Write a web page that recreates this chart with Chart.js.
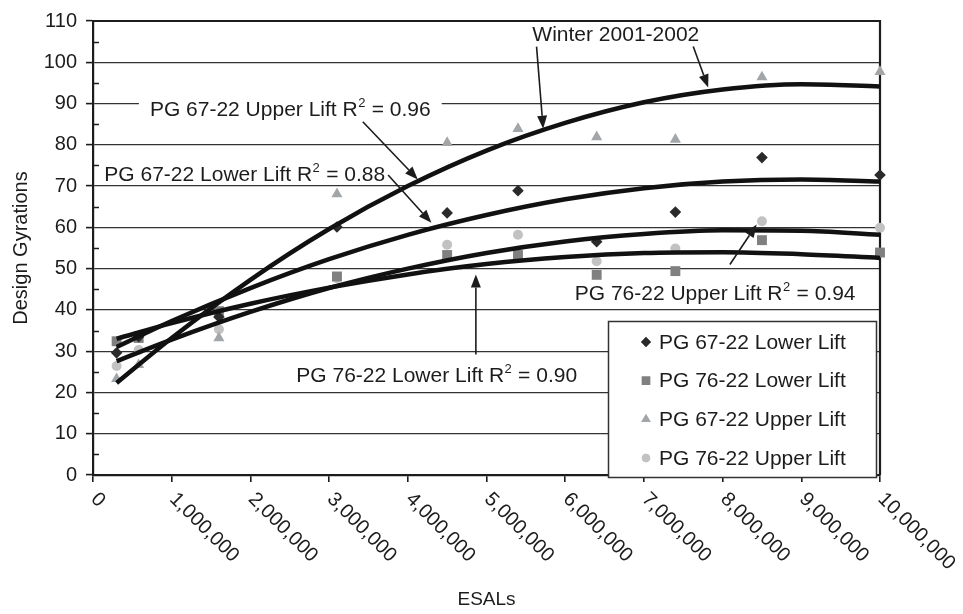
<!DOCTYPE html>
<html>
<head>
<meta charset="utf-8">
<script src="https://cdn.jsdelivr.net/npm/chart.js@4.4.1/dist/chart.umd.min.js"></script>
<style>
  html, body { margin: 0; padding: 0; background: #fff; }
  #wrap { width: 963px; height: 614px; }
</style>
</head>
<body>
<div id="wrap"><canvas id="c" width="963" height="614"></canvas></div>
<script>
// Design gyrations measured at each traffic level (ESALs)
const esals = [300000, 580000, 1600000, 3100000, 4500000, 5400000, 6400000, 7400000, 8500000, 10000000];
const pg6722Lower = [29.6, 33.5, 38.3, 60.1, 63.5, 68.9, 56.5, 63.7, 76.9, 72.7];
const pg7622Lower = [32.4, 33.2, 39.7, 48.1, 53.3, 53.3, 48.5, 49.4, 56.9, 53.9];
const pg6722Upper = [23.3, 26.7, 33.2, 68.1, 80.5, 83.9, 81.9, 81.3, 96.4, 97.7];
const pg7622Upper = [26.4, 30.3, 35.3, 47.7, 55.8, 58.2, 51.8, 54.9, 61.5, 59.9];

// Trend curves (second-order fits) sampled along the ESAL range
const trendEsals = [300000, 1000000, 2000000, 3000000, 4000000, 5000000, 6000000, 7000000, 8000000, 9000000, 10000000];
const trend6722Upper = [22.3, 33.2, 47.3, 59.6, 70.0, 78.6, 85.3, 90.3, 93.4, 94.7, 94.1];
const trend6722Lower = [31.0, 37.3, 45.3, 52.3, 58.2, 63.0, 66.8, 69.5, 71.1, 71.6, 71.1];
const trend7622Upper = [27.6, 32.8, 39.5, 45.3, 50.0, 53.8, 56.6, 58.4, 59.3, 59.2, 58.2];
const trend7622Lower = [33.0, 36.8, 41.5, 45.4, 48.6, 51.1, 52.8, 53.8, 54.0, 53.5, 52.6];

const xTickLabels = ['0', '1,000,000', '2,000,000', '3,000,000', '4,000,000', '5,000,000',
                     '6,000,000', '7,000,000', '8,000,000', '9,000,000', '10,000,000'];
const yTickLabels = ['0', '10', '20', '30', '40', '50', '60', '70', '80', '90', '100', '110'];

const FONT = '"Liberation Sans", Arial, Helvetica, sans-serif';
const INK = '#1c1c1c';

const toPts = (xs, ys) => xs.map((x, i) => ({ x, y: ys[i] }));

const markerSeries = [
  { label: 'PG 67-22 Lower Lift', values: pg6722Lower, style: 'rectRot',  color: '#2a2a2a', r: 5.8 },
  { label: 'PG 76-22 Lower Lift', values: pg7622Lower, style: 'rect',     color: '#808080', r: 7.0 },
  { label: 'PG 67-22 Upper Lift', values: pg6722Upper, style: 'triangle', color: '#a3a6a9', r: 6.4 },
  { label: 'PG 76-22 Upper Lift', values: pg7622Upper, style: 'circle',   color: '#c2c2c2', r: 5.0 }
];
const trendSeries = [trend6722Upper, trend6722Lower, trend7622Upper, trend7622Lower];

// Callout labels with leader arrows, placed in data units
const callouts = [
  { main: 'Winter 2001-2002', sup: '', tail: '', at: [6643000, 107.0], box: false,
    arrows: [[[5636000, 103.8], [5720000, 83.9]], [[7627000, 103.8], [7817000, 93.9]]] },
  { main: 'PG 67-22 Upper Lift R', sup: '2', tail: ' = 0.96', at: [2507000, 88.9], box: true,
    arrows: [[[3428000, 85.6], [4127000, 71.6]]] },
  { main: 'PG 67-22 Lower Lift R', sup: '2', tail: ' = 0.88', at: [1928000, 73.1], box: false,
    arrows: [[[3750000, 72.7], [4300000, 61.1]]] },
  { main: 'PG 76-22 Upper Lift R', sup: '2', tail: ' = 0.94', at: [7905000, 44.3], box: false,
    arrows: [[[8093000, 51.0], [8433000, 60.7]]] },
  { main: 'PG 76-22 Lower Lift R', sup: '2', tail: ' = 0.90', at: [4367000, 24.4], box: false,
    arrows: [[[4865000, 29.2], [4865000, 48.6]]] }
];

const datasets = [];
trendSeries.forEach((vals, i) => {
  datasets.push({
    label: 'trend' + i,
    data: toPts(trendEsals, vals),
    showLine: true,
    borderColor: '#111',
    borderWidth: 4.5,
    pointRadius: 0,
    cubicInterpolationMode: 'monotone',
    order: 1
  });
});
markerSeries.forEach(s => {
  datasets.push({
    label: s.label,
    data: toPts(esals, s.values),
    showLine: false,
    pointStyle: s.style,
    pointRadius: s.r,
    backgroundColor: s.color,
    borderColor: s.color,
    borderWidth: 0,
    clip: false,
    order: 2
  });
});

function drawArrow(ctx, x0, y0, x1, y1) {
  const ang = Math.atan2(y1 - y0, x1 - x0);
  const len = 13, half = 5;
  const bx = x1 - Math.cos(ang) * len, by = y1 - Math.sin(ang) * len;
  ctx.beginPath();
  ctx.moveTo(x0, y0);
  ctx.lineTo(bx, by);
  ctx.stroke();
  ctx.beginPath();
  ctx.moveTo(x1, y1);
  ctx.lineTo(bx + Math.sin(ang) * half, by - Math.cos(ang) * half);
  ctx.lineTo(bx - Math.sin(ang) * half, by + Math.cos(ang) * half);
  ctx.closePath();
  ctx.fill();
}

const decor = {
  id: 'decor',
  beforeDatasetsDraw(chart) {
    const { ctx, chartArea: a, scales: { y } } = chart;
    ctx.save();
    ctx.strokeStyle = INK;
    // minor ticks pointing into the plot
    ctx.lineWidth = 1.5;
    for (let v = 5; v < 110; v += 10) {
      const py = Math.round(y.getPixelForValue(v)) + 0.5;
      ctx.beginPath();
      ctx.moveTo(a.left, py);
      ctx.lineTo(a.left + 6, py);
      ctx.stroke();
    }
    // top and right frame
    ctx.lineWidth = 2.2;
    ctx.beginPath();
    ctx.moveTo(a.left, a.top);
    ctx.lineTo(a.right, a.top);
    ctx.lineTo(a.right, a.bottom);
    ctx.stroke();
    ctx.restore();
  },
  afterDatasetsDraw(chart) {
    const { ctx, chartArea: a, scales: { x, y } } = chart;
    ctx.save();

    // callouts
    const mainFont = '21px ' + FONT, supFont = '13px ' + FONT;
    callouts.forEach(c => {
      ctx.font = mainFont;
      const w1 = ctx.measureText(c.main).width;
      const w3 = ctx.measureText(c.tail).width;
      ctx.font = supFont;
      const w2 = c.sup ? ctx.measureText(c.sup).width + 1 : 0;
      const total = w1 + w2 + w3;
      const cx = x.getPixelForValue(c.at[0]);
      const cy = y.getPixelForValue(c.at[1]);
      const sx = cx - total / 2;
      if (c.box) {
        ctx.fillStyle = '#fff';
        ctx.fillRect(sx - 11, cy - 12, total + 22, 24);
      }
      const base = cy + 7.5;
      ctx.fillStyle = INK;
      ctx.textAlign = 'left';
      ctx.textBaseline = 'alphabetic';
      ctx.font = mainFont;
      ctx.fillText(c.main, sx, base);
      if (c.sup) {
        ctx.font = supFont;
        ctx.fillText(c.sup, sx + w1 + 0.5, base - 9);
      }
      ctx.font = mainFont;
      ctx.fillText(c.tail, sx + w1 + w2, base);

      ctx.strokeStyle = INK;
      ctx.fillStyle = INK;
      ctx.lineWidth = 1.6;
      c.arrows.forEach(([p0, p1]) => {
        drawArrow(ctx, x.getPixelForValue(p0[0]), y.getPixelForValue(p0[1]),
                       x.getPixelForValue(p1[0]), y.getPixelForValue(p1[1]));
      });
    });

    // legend box in the lower-right of the plot
    const lw = 268, lh = 156;
    const lx = a.right - 272, ly = a.top + 300;
    ctx.fillStyle = '#fff';
    ctx.fillRect(lx, ly, lw, lh);
    ctx.strokeStyle = '#333';
    ctx.lineWidth = 1.5;
    ctx.strokeRect(lx + 0.5, ly + 0.5, lw, lh);
    ctx.font = '21px ' + FONT;
    ctx.textAlign = 'left';
    ctx.textBaseline = 'middle';
    markerSeries.forEach((s, i) => {
      const ry = ly + 21 + i * 38.7;
      ctx.fillStyle = s.color;
      Chart.helpers.drawPoint(ctx, { pointStyle: s.style, radius: s.r * 0.85, borderWidth: 0, rotation: 0 }, lx + 38, ry);
      ctx.fill();
      ctx.fillStyle = INK;
      ctx.fillText(s.label, lx + 51, ry + 1);
    });

    // rotated ESAL tick labels
    ctx.font = '20px ' + FONT;
    ctx.fillStyle = INK;
    ctx.textAlign = 'left';
    ctx.textBaseline = 'middle';
    x.ticks.forEach((t, i) => {
      const px = x.getPixelForValue(t.value);
      ctx.save();
      ctx.translate(px + 1, a.bottom + 21);
      ctx.rotate(Math.PI / 4);
      ctx.fillText(xTickLabels[i], 0, 0);
      ctx.restore();
    });
    ctx.restore();
  }
};

new Chart(document.getElementById('c'), {
  type: 'scatter',
  data: { datasets },
  plugins: [decor],
  options: {
    responsive: false,
    animation: false,
    devicePixelRatio: 1,
    layout: { padding: { top: 16, right: 83, left: 0, bottom: 0 }, autoPadding: false },
    plugins: { legend: { display: false }, tooltip: { enabled: false } },
    scales: {
      x: {
        type: 'linear',
        min: 0, max: 10000000,
        afterFit: s => { s.height = 139; },
        ticks: { stepSize: 1000000, display: false },
        grid: { drawOnChartArea: false, drawTicks: true, tickLength: 7, color: INK, lineWidth: 1.6 },
        border: { display: true, color: INK, width: 2.2 },
        title: { display: true, text: 'ESALs', color: INK, font: { family: FONT, size: 19 }, padding: { top: 0, bottom: 3 } }
      },
      y: {
        min: 0, max: 110,
        afterFit: s => { s.width = 93; },
        ticks: {
          stepSize: 10, color: INK, padding: 9,
          font: { family: FONT, size: 20 },
          callback: (v, i) => yTickLabels[i]
        },
        grid: { color: '#333', lineWidth: 1.2, drawTicks: true, tickLength: 7, tickColor: INK, tickWidth: 1.6 },
        border: { display: true, color: INK, width: 2.2 },
        title: { display: true, text: 'Design Gyrations', color: INK, font: { family: FONT, size: 20 }, padding: { top: 9, bottom: 0 } }
      }
    }
  }
});
</script>
</body>
</html>
